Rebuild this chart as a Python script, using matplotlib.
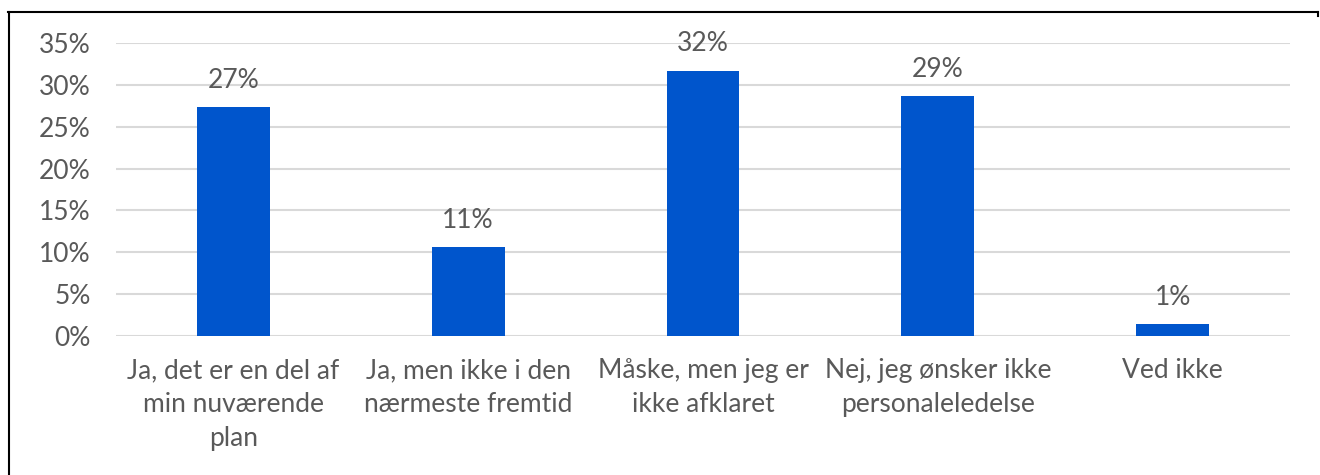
import matplotlib
matplotlib.use("Agg")
import matplotlib.pyplot as plt
from matplotlib.lines import Line2D

plt.rcParams['font.family'] = ['Lato', 'DejaVu Sans']

categories = [
    "Ja, det er en del af\nmin nuværende\nplan",
    "Ja, men ikke i den\nnærmeste fremtid",
    "Måske, men jeg er\nikke afklaret",
    "Nej, jeg ønsker ikke\npersonaleledelse",
    "Ved ikke",
]
values = [27.3, 10.6, 31.7, 28.7, 1.4]
yticks = [0, 5, 10, 15, 20, 25, 30, 35]

text_color = "#595959"
bar_color = "#0055CC"
grid_color = "#D9D9D9"
fs = 19

fig = plt.figure(figsize=(13.2, 4.75), dpi=100)
ax = fig.add_axes([116 / 1320, 139 / 475, (1290 - 116) / 1320, (336 - 43) / 475])

x = range(len(categories))
ax.bar(x, values, width=0.31, color=bar_color, zorder=3)
for xi, v in zip(x, values):
    ax.text(xi, v + 1.7, f"{v:.0f}%", ha="center", va="bottom",
            fontsize=fs, color=text_color)

ax.set_xlim(-0.5, len(categories) - 0.5)
ax.set_ylim(0, 35)
ax.set_yticks(yticks)
ax.set_yticklabels([f"{t}%" for t in yticks])
ax.set_xticks(list(x))
ax.set_xticklabels(categories, linespacing=1.45)
ax.tick_params(axis="both", length=0, colors=text_color, labelsize=fs)
ax.tick_params(axis="y", pad=18)
ax.tick_params(axis="x", pad=16)
ax.yaxis.grid(True, color=grid_color, linewidth=1.5, zorder=0)
for s in ax.spines.values():
    s.set_visible(False)

# outer frame (top and left edges)
fig.add_artist(Line2D([8 / 1320, 1318 / 1320], [1 - 12 / 475, 1 - 12 / 475],
                      transform=fig.transFigure, color="black", linewidth=1.5))
fig.add_artist(Line2D([9 / 1320, 9 / 1320], [0, 1 - 12 / 475],
                      transform=fig.transFigure, color="black", linewidth=1.5))
fig.add_artist(Line2D([1318 / 1320, 1318 / 1320], [1 - 12 / 475, 1 - 16 / 475],
                      transform=fig.transFigure, color="black", linewidth=1.5))

fig.savefig("out.png", dpi=100)
